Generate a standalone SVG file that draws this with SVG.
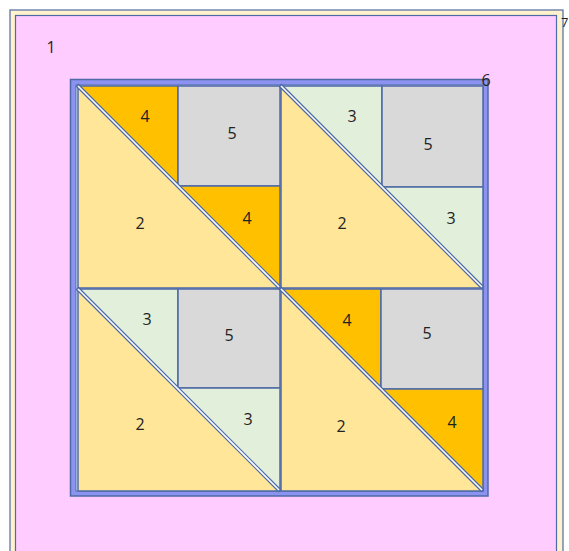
<svg xmlns="http://www.w3.org/2000/svg" width="569" height="551" viewBox="0 0 569 551">
<style>
.p{stroke:#4e6aa6;stroke-width:1.5;stroke-linejoin:round}
.y{fill:#ffe699}.o{fill:#ffc000}.g{fill:#e2efda}.s{fill:#d9d9d9}
.d{stroke:#4e6aa6;stroke-width:4}
.w{stroke:#ffffff;stroke-width:1.6}
text{font-family:"Open Sans","Liberation Sans",sans-serif;font-size:16px;fill:#222;text-anchor:middle}
</style>
<defs>
<g id="diag">
<line class="d" x1="0" y1="0" x2="203" y2="203"/>
<line class="w" x1="1" y1="1" x2="202" y2="202"/>
</g>
</defs>
<rect width="569" height="551" fill="#ffffff"/>
<g id="n7">
<rect x="10" y="10" width="553" height="560" fill="#fff2cc" stroke="#4e6aa6" stroke-width="1.2"/>
<text x="568.5" y="27" style="text-anchor:end;font-size:13px">7</text>
</g>
<g id="n1">
<rect x="15.5" y="15.5" width="541" height="560" fill="#ffccff" stroke="#4e6aa6" stroke-width="1.2"/>
<text x="51" y="53">1</text>
</g>
<g id="n6">
<rect x="70.5" y="79.5" width="417.5" height="416.5" fill="#8c92f0" stroke="#4e6aa6" stroke-width="1.5"/>
<rect x="76" y="85" width="407" height="406" fill="#f4f6ff" stroke="#4e6aa6" stroke-width="1"/>
<text x="486" y="86">6</text>
</g>
<g id="blockTL">
<polygon class="p y" points="78,86 280,288 78,288"/>
<polygon class="p o" points="78,86 178,86 178,186"/>
<rect class="p s" x="178" y="86" width="102" height="100"/>
<polygon class="p o" points="178,186 280,186 280,288"/>
<use href="#diag" x="77" y="85"/>
<text x="145" y="122">4</text><text x="232" y="139">5</text><text x="140" y="229">2</text><text x="247" y="224">4</text>
</g>
<g id="blockTR">
<polygon class="p y" points="281,86 483,288 281,288"/>
<polygon class="p g" points="281,86 382,86 382,187"/>
<rect class="p s" x="382" y="86" width="101" height="101"/>
<polygon class="p g" points="382,187 483,187 483,288"/>
<use href="#diag" x="280" y="85"/>
<text x="352" y="122">3</text><text x="428" y="150">5</text><text x="342" y="229">2</text><text x="451" y="224">3</text>
</g>
<g id="blockBL">
<polygon class="p y" points="78,289 280,491 78,491"/>
<polygon class="p g" points="78,289 178,289 178,388"/>
<rect class="p s" x="178" y="289" width="102" height="99"/>
<polygon class="p g" points="178,388 280,388 280,491"/>
<use href="#diag" x="77" y="288"/>
<text x="147" y="325">3</text><text x="229" y="341">5</text><text x="140" y="430">2</text><text x="248" y="425">3</text>
</g>
<g id="blockBR">
<polygon class="p y" points="281,289 483,491 281,491"/>
<polygon class="p o" points="281,289 381,289 381,389"/>
<rect class="p s" x="381" y="289" width="102" height="100"/>
<polygon class="p o" points="381,389 483,389 483,491"/>
<use href="#diag" x="280" y="288"/>
<text x="347" y="326">4</text><text x="427" y="339">5</text><text x="341" y="432">2</text><text x="452" y="428">4</text>
</g>
<g id="connectors"></g>
</svg>
